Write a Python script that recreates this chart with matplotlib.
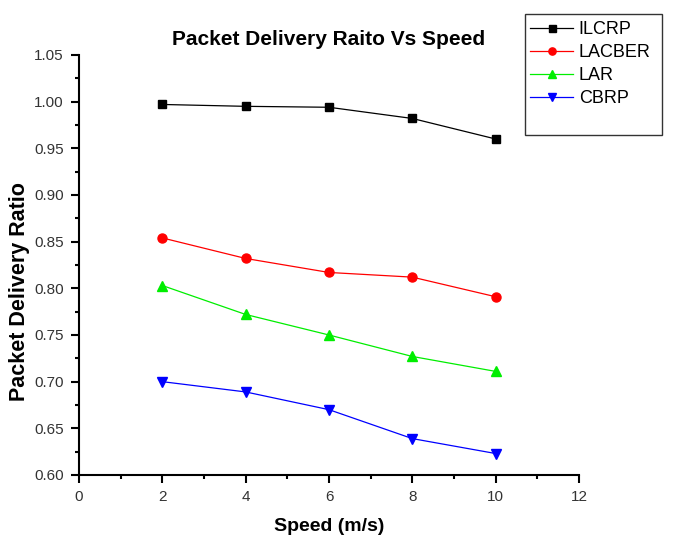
import matplotlib
matplotlib.use("Agg")
import matplotlib.pyplot as plt
from matplotlib.patches import Rectangle
from matplotlib.ticker import MultipleLocator

plt.rcParams["font.family"] = ["Liberation Sans", "DejaVu Sans"]

speed = [2, 4, 6, 8, 10]
ilcrp = [0.997, 0.995, 0.994, 0.982, 0.960]
lacber = [0.854, 0.832, 0.817, 0.812, 0.791]
lar = [0.803, 0.772, 0.750, 0.727, 0.711]
cbrp = [0.700, 0.689, 0.670, 0.639, 0.623]

series = [
    ("ILCRP", ilcrp, "black", "s", 6.3),
    ("LACBER", lacber, "red", "o", 6.5),
    ("LAR", lar, "#00ee00", "^", 7.5),
    ("CBRP", cbrp, "blue", "v", 7.5),
]

W, H = 685, 548
fig = plt.figure(figsize=(6.85, 5.48), dpi=100)
ax = fig.add_axes([79 / W, 1 - 475 / H, 500 / W, 420 / H])

lines = []
for name, vals, col, mk, ms in series:
    ln, = ax.plot(speed, vals, color=col, marker=mk, markersize=ms, lw=0.9,
                  label=name)
    lines.append(ln)

ax.set_xlim(0, 12)
ax.set_ylim(0.60, 1.05)
ax.xaxis.set_major_locator(MultipleLocator(2))
ax.xaxis.set_minor_locator(MultipleLocator(1))
ax.yaxis.set_major_locator(MultipleLocator(0.05))
ax.yaxis.set_minor_locator(MultipleLocator(0.025))
ax.yaxis.set_major_formatter(plt.FormatStrFormatter("%.2f"))

for s in ["top", "right"]:
    ax.spines[s].set_visible(False)
for s in ["left", "bottom"]:
    ax.spines[s].set_linewidth(1.5)

ax.tick_params(which="major", direction="out", length=6, width=1.5,
               labelsize=11, labelcolor="#333333", pad=5)
ax.tick_params(which="minor", direction="out", length=3, width=1.5)

ax.set_xlabel("Speed (m/s)", fontsize=14, fontweight="bold", labelpad=10)
ax.set_ylabel("Packet Delivery Ratio", fontsize=15.5, fontweight="bold")
ax.yaxis.set_label_coords(-0.098, 0.436)
ax.set_title("Packet Delivery Raito Vs Speed", fontsize=15, fontweight="bold", pad=7)

# legend box (taller than its entries, as in the original)
fig.patches.append(Rectangle((525 / W, 1 - 135 / H), 137 / W, 121 / H,
                             transform=fig.transFigure, fill=False,
                             edgecolor="#333333", lw=1.0))
leg = fig.legend(handles=lines, loc="upper left",
                 bbox_to_anchor=(530 / W, 1 - 21 / H), fontsize=13,
                 frameon=False, handlelength=2.4, labelspacing=0.33,
                 borderpad=0.0, handletextpad=0.3, borderaxespad=0,
                 markerscale=0.8)

fig.savefig("out.png", dpi=100)
